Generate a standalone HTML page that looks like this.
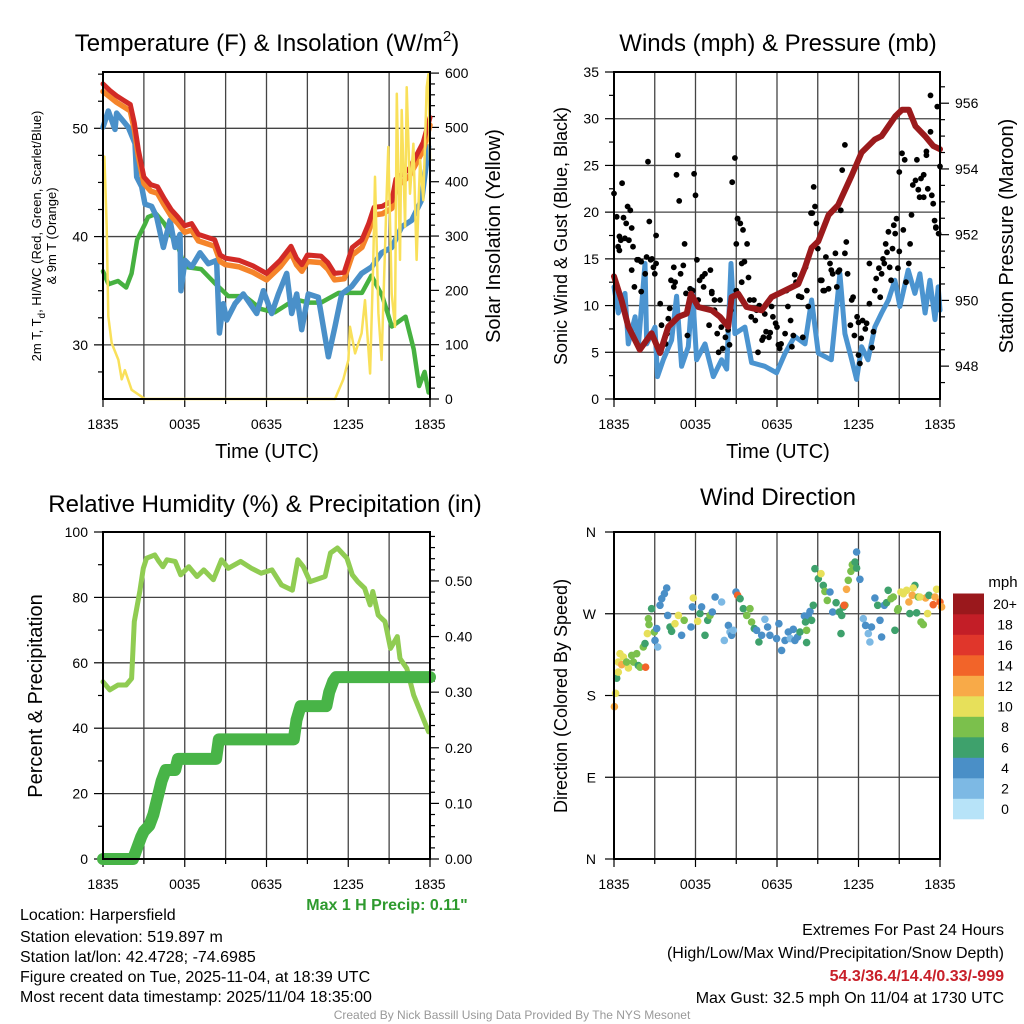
<!DOCTYPE html>
<html><head><meta charset="utf-8">
<style>
html,body{margin:0;padding:0;background:#fff;}
svg{display:block;font-family:"Liberation Sans",Arial,sans-serif;}
</style></head>
<body>
<svg id="root" width="1024" height="1024" viewBox="0 0 1024 1024" xmlns="http://www.w3.org/2000/svg">
<rect width="1024" height="1024" fill="#fff"/>
<g id="p1"></g>
<g id="p2"></g>
<g id="p3"></g>
<g id="p4"></g>
<g id="txt">
<text x="267" y="51" font-size="24" text-anchor="middle">Temperature (F) &amp; Insolation (W/m<tspan dy="-10" font-size="15">2</tspan><tspan dy="10">)</tspan></text>
<text x="778" y="51" font-size="24" text-anchor="middle">Winds (mph) &amp; Pressure (mb)</text>
<text x="265" y="512" font-size="24" text-anchor="middle">Relative Humidity (%) &amp; Precipitation (in)</text>
<text x="778" y="505" font-size="24" text-anchor="middle">Wind Direction</text>
<text x="267" y="458" font-size="20" text-anchor="middle">Time (UTC)</text>
<text x="778" y="458" font-size="20" text-anchor="middle">Time (UTC)</text>
<text transform="translate(41,236) rotate(-90)" font-size="13" text-anchor="middle">2m T, T<tspan dy="4" font-size="10">d</tspan><tspan dy="-4">, HI/WC (Red, Green, Scarlet/Blue)</tspan></text>
<text transform="translate(56,236) rotate(-90)" font-size="13" text-anchor="middle">&amp; 9m T (Orange)</text>
<text transform="translate(500,236) rotate(-90)" font-size="20" text-anchor="middle">Solar Insolation (Yellow)</text>
<text transform="translate(567,236) rotate(-90)" font-size="18" text-anchor="middle">Sonic Wind &amp; Gust (Blue, Black)</text>
<text transform="translate(1013,236) rotate(-90)" font-size="20" text-anchor="middle">Station Pressure (Maroon)</text>
<text transform="translate(42,696) rotate(-90)" font-size="20" text-anchor="middle">Percent &amp; Precipitation</text>
<text transform="translate(567,696) rotate(-90)" font-size="18" text-anchor="middle">Direction (Colored By Speed)</text>
<text x="387" y="910" font-size="16" font-weight="bold" fill="#2e9a2e" text-anchor="middle">Max 1 H Precip: 0.11"</text>
<text x="1003" y="587" font-size="15" text-anchor="middle">mph</text>
<g font-size="16">
<text x="20" y="920">Location: Harpersfield</text>
<text x="20" y="942">Station elevation: 519.897 m</text>
<text x="20" y="962">Station lat/lon: 42.4728; -74.6985</text>
<text x="20" y="982">Figure created on Tue, 2025-11-04, at 18:39 UTC</text>
<text x="20" y="1002">Most recent data timestamp: 2025/11/04 18:35:00</text>
</g>
<g font-size="16" text-anchor="end">
<text x="1004" y="935">Extremes For Past 24 Hours</text>
<text x="1004" y="958">(High/Low/Max Wind/Precipitation/Snow Depth)</text>
<text x="1004" y="981" fill="#c8202a" font-weight="bold">54.3/36.4/14.4/0.33/-999</text>
<text x="1004" y="1003">Max Gust: 32.5 mph On 11/04 at 1730 UTC</text>
</g>
<text x="512" y="1019" font-size="12" fill="#999" text-anchor="middle">Created By Nick Bassill Using Data Provided By The NYS Mesonet</text>
</g>
</svg>
<script>
// ---------- data ----------
const xTickLabels = ["1835","0035","0635","1235","1835"];
const redH = [0,0.5,1,1.5,2,2.3,2.6,3.0,3.5,4.0,4.5,5.0,5.5,6.0,6.5,7.0,7.5,8.2,8.6,9.0,10,11,12,13,13.8,14.2,14.6,15,16,16.5,17,17.7,18.3,19,19.5,19.9,20.5,21.2,21.5,22,22.5,23,23.5,24];
const redT = [54.1,53.5,53,52.6,52.2,50.5,48,45.5,44.8,44.6,43.5,42.5,41.8,41,41.2,40.2,40,39.7,38.3,38,37.8,37.3,36.6,37.8,39.1,38,37.4,38.3,38.2,37.6,36.6,36.7,39,39.7,41.2,42.7,42.8,43.3,45.3,45.8,46.3,47.5,48.7,51];
const orangeT = [53.4,52.9,52.4,52,51.6,49.9,47.4,44.9,44.2,44,42.9,41.9,41.2,40.4,40.6,39.6,39.4,39.1,37.7,37.4,37.2,36.7,36,37.2,38.5,37.4,36.8,37.7,37.6,37,36,36.1,38.3,39,40.5,42,42.1,42.6,44.6,45.1,45.6,46.8,48,50.3];
const blueH = [0,0.39,0.88,1.0,1.86,2.35,2.47,2.84,3.08,3.57,3.94,4.43,4.92,5.29,5.65,5.72,6.02,6.5,7.12,7.73,8.34,8.54,8.83,9.08,9.69,10.3,11.28,11.77,12.38,12.87,13.48,13.85,14.22,14.58,15.07,15.8,16.54,17.03,17.52,18.25,18.98,19.72,20.45,21.19,21.92,22.66,23.39,23.9];
const blueT = [50.1,51.6,49.9,51.4,50.1,48.6,45.5,44.6,43,42.8,41.8,39,41.5,39,40.2,35,37.8,37.2,38.5,37.5,37.8,31.1,33.8,32.3,33.8,34.7,32.9,35,32.9,34.7,36.6,32.9,34.7,31.4,34.7,34.4,28.9,31.7,34.7,35.4,36.6,37.2,38.5,39,40.9,41.5,43.4,48.3];
const greenH = [0,0.4,1.1,1.7,2.1,2.5,3.1,3.3,3.9,4.5,5.5,6.0,7.2,8.2,9.2,10.4,11.6,12.6,14.1,15.1,16.0,17.3,19.0,19.7,20.5,21.2,22.2,22.8,23.2,23.6,23.9];
const greenT = [36.8,35.6,35.9,35.3,36.6,39.7,41.2,41.8,42.1,41.2,39.1,37.2,37,35.7,34.5,34.5,33.3,33,34.2,33.9,33.9,34.8,34.8,36.4,34.5,31.7,32.6,29.6,26.2,27.5,25.6];
const solarH = [0,0.1,0.27,0.39,0.64,1.13,1.37,1.61,2.1,3.08,17.03,17.64,18.01,18.13,18.5,18.98,19.23,19.6,19.84,19.96,20.21,20.45,20.82,20.94,21.19,21.43,21.56,21.8,21.92,22.17,22.29,22.53,22.78,23.02,23.27,23.51,23.76,23.88,24.0];
const solarW = [440,446,317,152,103,72,36,53,17,0,0,36,72,133,84,121,182,47,256,409,158,72,378,464,194,133,562,256,532,317,574,378,470,256,440,366,574,598,440];
const windH = [0,0.32,0.81,1.05,1.55,1.79,2.28,2.41,3.02,3.2,3.63,4.24,4.61,4.98,5.47,5.77,6.08,6.7,7.31,7.92,8.3,8.61,8.9,9.64,10.13,11.1,11.97,12.6,13.3,14.06,14.55,15.04,16.0,16.63,17.0,17.5,17.86,18.23,18.7,19.2,19.7,20.2,20.68,21.05,21.66,22.15,22.52,22.9,23.26,23.63,23.87,24];
const windV = [12,9.2,11.3,5.9,8.8,5.6,14.5,5.9,7.7,2.4,4.2,6.3,11,3.5,5.6,11.7,4.2,5.9,2.4,4.2,3.2,14.5,7,7.7,3.9,3.5,2.8,4.9,6.7,5.9,10.6,4.9,4.2,13.4,7,4.2,2.1,5.6,4.2,7.7,9.2,10.6,12.7,9.9,13.8,11.3,13.4,9.2,12.7,8.5,12,9.5];
const presH = [0,0.56,1.05,1.9,2.77,3.39,4.0,4.74,5.35,5.67,6.2,7.19,7.8,8.41,8.66,9.15,9.76,10.87,11.6,12.6,13.57,14.06,14.55,15.04,15.8,16.5,17.5,18.23,19.21,19.7,20.7,21.2,21.7,22.2,22.9,23.5,24];
const presMb = [950.73,950.0,949.2,948.5,949,948.4,949.2,949.5,949.6,950.2,949.8,949.7,949.5,949.2,950.1,950.2,949.8,949.7,950.1,950.3,950.5,951,951.6,951.8,952.6,952.9,953.8,954.5,954.9,955,955.6,955.8,955.8,955.3,955.0,954.7,954.6];
const gustH = [0.0,0.2,0.6,0.7,0.9,1.0,1.2,1.3,0.4,0.5,0.3,0.4,0.8,1.1,1.3,1.5,1.4,1.7,1.8,2.0,2.0,2.3,2.4,2.5,2.6,2.8,2.7,2.9,3.0,3.1,3.1,3.4,3.5,3.8,3.9,4.0,4.1,4.2,4.4,4.4,4.5,4.6,4.7,4.8,4.9,5.1,5.2,5.3,5.4,5.6,5.7,5.8,5.9,6.0,6.1,6.2,6.3,6.5,6.6,6.7,7.0,7.1,7.2,7.2,7.4,7.4,7.6,7.7,7.8,7.9,8.0,8.2,8.4,8.5,8.6,8.7,8.9,9.0,9.0,9.1,9.1,9.3,9.4,9.4,9.5,9.6,9.8,9.9,10.0,10.1,10.3,10.4,10.5,10.6,10.7,10.9,11.0,11.1,11.2,11.4,11.5,11.6,11.7,11.9,12.0,12.1,12.2,12.3,12.6,12.7,12.8,13.0,13.1,13.2,13.3,13.4,13.6,13.7,13.8,13.9,14.1,14.2,14.3,14.5,14.6,14.7,14.8,14.9,15.0,15.2,15.3,15.4,15.5,15.6,15.8,15.9,16.0,16.1,16.3,16.4,16.5,16.6,16.7,16.8,17.0,17.0,17.1,17.2,17.4,17.5,17.6,17.7,17.9,18.0,18.0,18.1,18.2,18.3,18.5,18.6,18.8,18.8,19.0,19.1,19.2,19.3,19.5,19.6,19.7,19.8,19.9,20.0,20.1,20.2,20.3,20.4,20.5,20.6,20.7,20.8,20.9,21.0,21.0,21.2,21.3,21.4,21.5,21.7,21.8,21.9,22.0,22.2,22.3,22.4,22.5,22.6,22.8,22.8,23.0,23.0,23.1,23.3,23.3,23.4,23.5,23.6,23.7,23.7,23.8,23.9,24.0];
const gustV = [22.0,19.5,23.1,19.4,18.8,20.6,20.2,18.3,17.4,17.0,16.3,15.9,17.2,17.0,13.8,12.0,16.3,14.9,14.9,14.7,11.5,13.4,15.2,25.4,19.0,15.0,14.9,14.1,13.4,17.5,14.5,10.2,7.9,5.9,7.0,8.6,9.7,12.7,14.1,12.0,12.5,24.0,26.1,21.2,13.4,14.3,16.6,11.3,6.8,11.8,10.9,11.6,24.1,21.8,14.9,10.6,12.7,13.1,12.0,13.4,7.9,13.8,11.5,11.3,10.6,9.5,7.0,5.0,10.6,7.7,5.4,6.6,7.4,5.8,9.5,23.2,25.8,16.6,11.6,19.3,19.3,18.8,12.5,14.5,18.1,14.7,16.6,13.0,10.6,8.8,10.6,8.4,9.5,5.0,10.0,6.3,6.6,9.1,7.2,6.6,7.1,9.9,8.8,8.1,7.7,5.8,5.4,5.9,7.0,11.6,9.9,8.4,5.6,6.8,13.3,12.5,11.0,12.9,10.9,6.6,14.1,11.6,9.9,19.9,19.9,22.7,20.6,18.8,16.1,12.7,12.7,11.6,11.6,15.2,11.8,14.5,13.8,13.4,15.6,12.0,13.6,13.8,20.2,24.5,27.2,15.6,16.8,13.4,7.9,10.6,10.9,6.8,8.8,8.2,4.7,3.8,6.5,8.4,7.5,8.1,10.2,14.5,5.5,7.2,11.6,12.9,14.0,10.9,13.4,15.0,14.5,16.6,15.7,17.9,14.1,12.7,16.1,18.6,17.7,19.3,14.0,15.8,24.3,26.3,18.1,25.6,12.5,14.5,16.6,19.7,22.9,23.4,25.6,22.4,21.6,23.6,21.6,24.0,26.5,26.1,22.5,32.5,28.6,21.8,20.9,19.1,18.3,18.4,31.3,17.7,24.9,15.6,21.8];
const rhH = [0,0.5,1.1,1.7,2.1,2.3,2.7,2.96,3.2,3.8,4.1,4.4,4.7,5.3,5.7,6.3,6.9,7.4,8.1,8.7,9.2,10.1,10.9,11.6,12.4,13.1,13.9,14.3,14.7,15.2,16.3,16.7,17.2,17.9,18.3,18.7,19.2,19.6,19.8,20.2,20.7,21.1,21.6,21.8,22.3,22.8,23.3,23.9];
const rhV = [54.2,51.7,53.2,53.2,55.2,72.6,81.8,88.9,92,93,91,89.4,91.5,91,86.9,89.4,86.4,88.4,85.4,91.5,88.9,91,88.9,87.4,88.4,83.8,82.2,91.5,89.4,84.8,86.4,93.6,95.1,92,86.9,84.8,82.8,77.7,81.8,74.6,72.6,64.4,68,61.3,58.3,50.1,45,38.9];
const prH = [0,2.2,2.5,2.8,3.0,3.4,3.7,4.0,4.3,4.6,5.3,5.5,8.3,8.5,14.0,14.2,14.5,16.4,16.6,16.9,17.1,24];
const prV = [0,0,0.02,0.04,0.05,0.06,0.08,0.11,0.14,0.16,0.16,0.18,0.18,0.215,0.215,0.25,0.275,0.275,0.30,0.32,0.327,0.327];
const dirH = [0.03,0.12,0.2,0.32,0.32,0.57,0.44,0.69,1.06,0.93,1.3,1.43,1.67,1.79,1.92,2.33,2.16,2.28,2.46,2.58,2.53,2.77,2.97,3.02,3.22,3.14,3.39,3.51,3.71,3.88,3.95,4.12,4.24,4.49,4.74,4.98,5.17,5.67,5.77,5.84,6.16,6.33,6.45,6.7,6.9,7.07,7.24,7.44,7.92,8.12,8.42,8.54,8.66,8.78,8.98,9.1,9.28,9.52,9.77,10.01,10.13,10.33,10.5,10.67,10.87,11.11,11.31,11.48,11.97,12.14,12.34,12.59,12.83,12.98,13.2,13.32,13.52,13.69,14.02,14.1,14.18,14.18,14.3,14.55,14.43,14.67,14.79,15.04,15.24,15.41,15.53,15.7,15.9,16.1,16.35,16.59,16.71,16.76,16.88,17.0,16.95,17.12,17.25,17.44,17.54,17.74,17.86,17.86,18.1,18.35,18.52,18.72,18.84,18.96,19.21,19.41,19.58,19.7,19.9,20.07,20.19,20.39,20.56,20.68,20.88,20.93,21.12,21.3,21.54,21.71,21.78,21.96,22.15,22.28,22.4,22.6,22.77,22.94,23.09,23.19,23.5,23.63,23.75,24.0,24.12,22.52,22.03];
const dirDeg = [167.7,182.4,199,205.8,216.8,213.9,226,222.4,210.3,216.8,224.2,216.8,226,213,211.2,211.2,233.4,237.1,248.1,258,264.6,275.6,249.9,240.7,233.4,253.6,279.3,286.6,292.1,298.4,268.2,255.4,250.7,259.1,268.2,246.3,262.8,255.4,277.5,287.3,261.7,270.2,277.5,246.3,262.8,268.2,271.9,288.4,282.9,240.7,257.2,249.9,246.3,251.8,294,290.3,286.6,275.6,268.2,275.6,260.9,253.6,251.8,238.9,246.3,263.9,255.4,246.3,242.6,259.1,229.7,240.7,249.9,242.6,252.9,240.7,244.4,249.9,267.5,260.9,251.8,238.2,268.2,262.8,272.6,279.3,319.6,308.6,314.1,301.2,294.6,284.7,293.9,271.9,282.2,271.9,248.1,268.2,277.5,279.3,279.3,296.9,306.8,316.7,324,327,338,320.3,307.9,264.6,257.2,248.1,238.9,255.4,287.3,279.3,262.8,244.4,279.3,282.2,295.8,286.6,288.4,251.8,273.9,275.6,293.9,292.1,295.8,282.9,270.2,290.3,301.2,271,288.4,260.9,258,287.3,270.2,290.3,280,288.4,296.9,282.9,277.5,288.4,298.4,290.3,278.2,293.9,276.8,294,282.9];
const dirSpd = [13,11,7,11,11,13,11,11,11,9,9,9,9,7,9,15,9,7,11,9,9,7,9,5,3,5,5,5,5,5,5,7,7,11,11,5,9,5,5,11,11,7,5,7,7,9,5,5,3,3,5,3,5,3,5,15,7,7,9,9,9,7,5,7,5,3,5,5,5,5,5,5,5,3,5,5,5,7,5,7,9,7,5,7,5,7,7,7,11,7,9,9,5,5,7,7,7,7,7,9,15,13,9,9,9,7,5,7,5,3,5,3,3,5,5,7,5,5,5,7,7,9,9,7,9,9,11,11,11,13,7,13,7,7,9,9,9,13,11,7,15,13,11,15,13,11,11,11,13,11,11,9,9];
const dirLabels = ["N","E","S","W","N"];
const cbLabels = ["0","2","4","6","8","10","12","14","16","18","20+"];
const cbColors = ["#b7e3f8","#7db9e4","#4a8fc7","#3ea16c","#7bc04c","#e7e05a","#f8aa48","#f26429","#e0362b","#c31e27","#9a181c"];

// ---------- helpers ----------
const NS = "http://www.w3.org/2000/svg";
function mk(parent, tag, attrs, text) {
  const e = document.createElementNS(NS, tag);
  for (const k in attrs) e.setAttribute(k, attrs[k]);
  if (text !== undefined) e.textContent = text;
  parent.appendChild(e);
  return e;
}
function lin(d0, d1, r0, r1) { return v => r0 + (v - d0) / (d1 - d0) * (r1 - r0); }
function pathD(xs, ys, fx, fy) {
  let d = "";
  for (let i = 0; i < xs.length; i++) d += (i ? "L" : "M") + fx(xs[i]).toFixed(1) + "," + fy(ys[i]).toFixed(1);
  return d;
}
function frame(g, x0, x1, y0, y1, hGrid, fy) {
  const fx = lin(0, 24, x0, x1);
  for (let h = 3; h < 24; h += 3) {
    const gl = mk(g, "line", {x1: fx(h), x2: fx(h), y1: y0, y2: y1, stroke: "#444", "stroke-width": 1.3});
    
    
  }
  hGrid.forEach(v => {
    const gl = mk(g, "line", {x1: x0, x2: x1, y1: fy(v), y2: fy(v), stroke: "#444", "stroke-width": 1.3});
    
    
  });
  for (let h = 0; h <= 24; h += 3) {
    mk(g, "line", {x1: fx(h), x2: fx(h), y1: y1, y2: y1 + (h % 6 === 0 ? 8 : 5), stroke: "#000", "stroke-width": 1.2});
  }
  xTickLabels.forEach((t, i) => {
    const tl = mk(g, "text", {x: fx(i * 6), y: y1 + 30, "font-size": 14, "text-anchor": "middle"}, t);
    
    
  });
  return fx;
}
function border(g, x0, x1, y0, y1) {
  const b = mk(g, "rect", {x: x0, y: y0, width: x1 - x0, height: y1 - y0, fill: "none", stroke: "#000", "stroke-width": 2});
  
  
}
function yTicks(g, vals, fy, x, side, fmt, len) {
  vals.forEach(v => {
    mk(g, "line", {x1: x, x2: x + (side < 0 ? -len : len), y1: fy(v), y2: fy(v), stroke: "#000", "stroke-width": 1.2});
    if (fmt) {
      const t = mk(g, "text", {x: side < 0 ? x - 14 : x + 14, y: fy(v) + 5, "font-size": 14, "text-anchor": side < 0 ? "end" : "start"}, fmt(v));
      
      
    }
  });
}
function line(g, xs, ys, fx, fy, color, w, name) {
  const p = mk(g, "path", {d: pathD(xs, ys, fx, fy), fill: "none", stroke: color, "stroke-width": w, "stroke-linejoin": "round", "stroke-linecap": "round"});
  
  
  return p;
}

// ---------- panel 1 ----------
(function () {
  const g = document.getElementById("p1");
  const X0 = 103, X1 = 430, Y0 = 72, Y1 = 399;
  const fy = lin(25, 55.2, Y1, Y0);
  const fyS = lin(0, 602, Y1, Y0);
  const fx = frame(g, X0, X1, Y0, Y1, [30, 40, 50], fy);
  yTicks(g, [30, 40, 50], fy, X0 - 1, -1, v => String(v), 8);
  yTicks(g, [27.5, 32.5, 35, 37.5, 42.5, 45, 47.5, 52.5, 55], fy, X0 - 1, -1, null, 4);
  yTicks(g, [0, 100, 200, 300, 400, 500, 600], fyS, X1 + 1, 1, v => String(v), 8);
  yTicks(g, [20,40,60,80,120,140,160,180,220,240,260,280,320,340,360,380,420,440,460,480,520,540,560,580], fyS, X1 + 1, 1, null, 4);
  line(g, greenH, greenT, fx, fy, "#46b140", 4.5, "dewpoint-line");
  line(g, blueH, blueT, fx, fy, "#4a90c9", 5.5, "windchill-line");
  line(g, redH, orangeT, fx, fy, "#f5842a", 5.5, "temp-9m-line");
  line(g, redH, redT, fx, fy, "#d22a26", 5, "temp-2m-line");
  line(g, solarH, solarW, fx, fyS, "#f9e05a", 2.5, "insolation-line");
  border(g, X0, X1, Y0, Y1);
})();

// ---------- panel 2 ----------
(function () {
  const g = document.getElementById("p2");
  const X0 = 614, X1 = 940, Y0 = 72, Y1 = 399;
  const fy = lin(0, 35, Y1, Y0);
  const fyP = lin(947, 956.95, Y1, Y0);
  const fx = frame(g, X0, X1, Y0, Y1, [5, 10, 15, 20, 25, 30], fy);
  yTicks(g, [0, 5, 10, 15, 20, 25, 30, 35], fy, X0 - 1, -1, v => String(v), 8);
  yTicks(g, [2.5, 7.5, 12.5, 17.5, 22.5, 27.5, 32.5], fy, X0 - 1, -1, null, 4);
  yTicks(g, [948, 950, 952, 954, 956], fyP, X1 + 1, 1, v => String(v), 8);
  yTicks(g, [947.5,948.5,949,949.5,950.5,951,951.5,952.5,953,953.5,954.5,955,955.5,956.5], fyP, X1 + 1, 1, null, 4);
  line(g, windH, windV, fx, fy, "#4b94d0", 5, "sonic-wind-line");
  gustH.forEach((h, i) => {
    const c = mk(g, "circle", {cx: fx(h).toFixed(1), cy: fy(gustV[i]).toFixed(1), r: 2.9, fill: "#000"});
    
    
  });
  line(g, presH, presMb, fx, fyP, "#9b1a1c", 6, "pressure-line");
  border(g, X0, X1, Y0, Y1);
})();

// ---------- panel 3 ----------
(function () {
  const g = document.getElementById("p3");
  const X0 = 103, X1 = 430, Y0 = 532, Y1 = 859;
  const fy = lin(0, 100, Y1, Y0);
  const fyP = lin(0, 0.588, Y1, Y0);
  const fx = frame(g, X0, X1, Y0, Y1, [20, 40, 60, 80], fy);
  yTicks(g, [0, 20, 40, 60, 80, 100], fy, X0 - 1, -1, v => String(v), 8);
  yTicks(g, [10, 30, 50, 70, 90], fy, X0 - 1, -1, null, 4);
  yTicks(g, [0, 0.1, 0.2, 0.3, 0.4, 0.5], fyP, X1 + 1, 1, v => v.toFixed(2), 8);
  yTicks(g, [0.02,0.04,0.06,0.08,0.12,0.14,0.16,0.18,0.22,0.24,0.26,0.28,0.32,0.34,0.36,0.38,0.42,0.44,0.46,0.48,0.52,0.54,0.56,0.58], fyP, X1 + 1, 1, null, 4);
  line(g, rhH, rhV, fx, fy, "#90cc52", 5, "humidity-line");
  line(g, prH, prV, fx, fyP, "#48b447", 12, "precipitation-line");
  border(g, X0, X1, Y0, Y1);
})();

// ---------- panel 4 ----------
(function () {
  const g = document.getElementById("p4");
  const X0 = 614, X1 = 940, Y0 = 532, Y1 = 859;
  const fy = lin(0, 360, Y1, Y0);
  const fx = frame(g, X0, X1, Y0, Y1, [90, 180, 270], fy);
  dirLabels.forEach((t, i) => {
    mk(g, "line", {x1: X0 - 1, x2: X0 - 9, y1: fy(i * 90), y2: fy(i * 90), stroke: "#000", "stroke-width": 1.2});
    const tl = mk(g, "text", {x: X0 - 18, y: fy(i * 90) + 5, "font-size": 14, "text-anchor": "end"}, t);
    
    
  });
  dirH.forEach((h, i) => {
    const idx = Math.min(10, Math.floor(dirSpd[i] / 2));
    const c = mk(g, "circle", {cx: fx(h).toFixed(1), cy: fy(dirDeg[i]).toFixed(1), r: 3.8, fill: cbColors[idx]});
    
    
  });
  border(g, X0, X1, Y0, Y1);
  const CB0 = 819, CBH = 20.5;
  cbLabels.forEach((t, i) => {
    const r = mk(g, "rect", {x: 953, y: CB0 - (i + 1) * CBH, width: 31, height: CBH + 0.3, fill: cbColors[i]});
    
    
    const tl = mk(g, "text", {x: 1005, y: CB0 - (i + 0.5) * CBH + 5, "font-size": 14, "text-anchor": "middle"}, t);
    
    
  });
})();
</script>
</body></html>
